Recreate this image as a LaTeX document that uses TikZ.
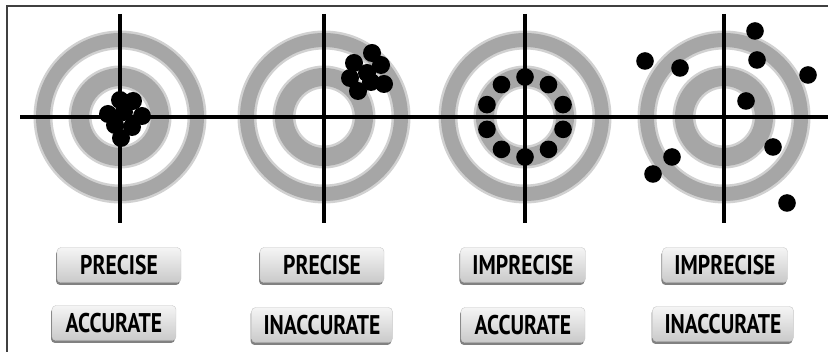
\documentclass[tikz,border=0pt]{standalone}
\usepackage{fontspec}
\newfontfamily\tagfont{PT Sans Bold}[FakeStretch=0.8]
\usetikzlibrary{shadows}

\begin{document}
\begin{tikzpicture}[
    x=1pt, y=-1pt,
    frameline/.style={line width=1.6pt, black!75},
    hair/.style={line width=3.2pt, black},
    ringhalo/.style={draw=black!18, line width=#1},
    ringcore/.style={draw=black!35, line width=#1},
    tag/.style={rectangle, rounded corners=4pt, draw=black!22, line width=0.4pt,
        top color=black!4, bottom color=black!21,
        minimum width=124pt, minimum height=35pt, inner xsep=12pt,
        font=\tagfont\fontsize{27}{27}\selectfont,
        drop shadow={shadow xshift=-1pt, shadow yshift=-2.5pt, fill=black!70, opacity=.7}}
]
\useasboundingbox (0,0) rectangle (828,352);

% --- Moldura (topo e esquerda) ---
\draw[frameline] (7,352) -- (7,6) -- (828,6);

% --- Alvos ---
\foreach \cx in {120,324,525,724} {
  \draw[ringhalo=19pt] (\cx,117) circle[radius=77];
  \draw[ringcore=14pt] (\cx,117) circle[radius=77];
  \draw[ringhalo=23pt] (\cx,117) circle[radius=40];
  \draw[ringcore=18pt] (\cx,117) circle[radius=40];
  \draw[hair] (\cx,14) -- (\cx,223);
}
\draw[hair] (20,117) -- (828,117);

% --- Tiros ---
% preciso e exato
\foreach \p in {(120,100),(133,101),(108,114),(124,112),(142,116),(115,125),(132,127),(121,138)}
  \fill \p circle[radius=9];
% preciso, inexato
\foreach \p in {(372,53),(354,63),(381,65),(350,78),(367,73),(384,84),(358,91),(371,82)}
  \fill \p circle[radius=9];
% impreciso, exato
\foreach \a in {90,126,...,414}
  \fill (525,117) ++(\a:40) circle[radius=8.8];
% impreciso, inexato
\foreach \p in {(755,31),(645,61),(680,68),(757,60),(808,75),(746,101),(773,147),(672,157),(653,174),(787,203)}
  \fill \p circle[radius=8.8];

% --- Rotulos ---
\node[tag] (precA)   at (119,265) {PRECISE};
\node[tag] (accA)    at (114,323) {ACCURATE};
\node[tag] (precB)   at (322,265) {PRECISE};
\node[tag] (inaccB)  at (322,325) {INACCURATE};
\node[tag] (imprC)   at (523,265) {IMPRECISE};
\node[tag] (accC)    at (523,325) {ACCURATE};
\node[tag] (imprD)   at (725,265) {IMPRECISE};
\node[tag] (inaccD)  at (723,324) {INACCURATE};

\end{tikzpicture}
\end{document}
